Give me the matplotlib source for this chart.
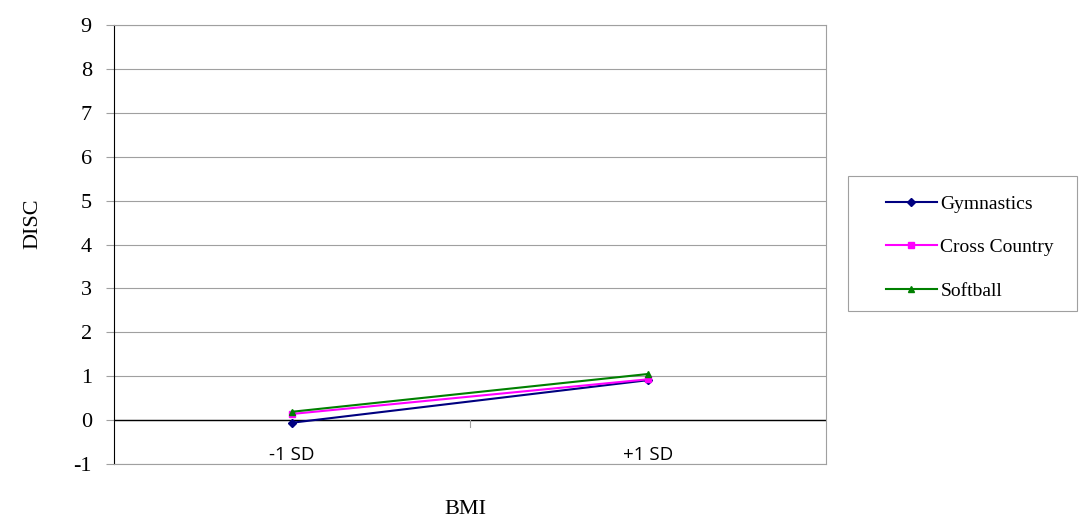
import matplotlib
matplotlib.use("Agg")
import matplotlib.pyplot as plt
from matplotlib.patches import Rectangle

categories = ["-1 SD", "+1 SD"]
gymnastics = [-0.06, 0.91]
cross_country = [0.14, 0.93]
softball = [0.19, 1.05]
yticks = list(range(-1, 10))

W, H = 1079, 520
fig = plt.figure(figsize=(W/100, H/100), dpi=100)
ax = fig.add_axes([114/W, 1-464/H, (826-114)/W, (464-25)/H])
ax.set_xlim(0, 2)
ax.set_ylim(-1, 9)
x = [0.5, 1.5]

ax.plot(x, gymnastics, color="#000080", marker="D", markersize=4, lw=1.5, label="Gymnastics", zorder=3)
ax.plot(x, cross_country, color="#FF00FF", marker="s", markersize=5, lw=1.5, label="Cross Country", zorder=3)
ax.plot(x, softball, color="#008000", marker="^", markersize=5, lw=1.5, label="Softball", zorder=4)

ax.set_yticks(yticks)
ax.set_yticklabels([str(v) for v in yticks], fontfamily="Liberation Serif", fontsize=16)
ax.yaxis.grid(True, color="#A0A0A0", lw=0.8)
ax.set_axisbelow(True)
ax.tick_params(axis="y", length=6, color="#A0A0A0", pad=10)
ax.set_xticks([])
ax.axhline(0, color="black", lw=1, zorder=2)
ax.plot([1, 1], [0, -0.15], color="#A0A0A0", lw=0.8, clip_on=False)
for xi, lab in zip(x, categories):
    ax.text(xi, -0.8, lab, ha="center", va="center", fontfamily="Open Sans", fontsize=13.5)

for s in ["top", "right", "bottom"]:
    ax.spines[s].set_color("#A0A0A0")
    ax.spines[s].set_linewidth(0.8)
ax.spines["left"].set_color("black")

fig.text(33/W, 1-224/H, "DISC", rotation=90, ha="center", va="center", fontfamily="Liberation Serif", fontsize=16)
fig.text(465/W, 1-509/H, "BMI", ha="center", va="center", fontfamily="Liberation Serif", fontsize=16)

fig.patches.append(Rectangle((848/W, 1-311/H), (1077-848)/W, (311-176)/H, transform=fig.transFigure,
                             fill=False, edgecolor="#A0A0A0", lw=0.8))
leg = fig.legend(loc="upper left", bbox_to_anchor=(886/W, 1-195/H), prop={"family": "Liberation Serif", "size": 14},
                 frameon=False, borderpad=0, labelspacing=1.33,
                 handlelength=2.6, handletextpad=0.2, borderaxespad=0)

fig.savefig("out.png", dpi=100)
